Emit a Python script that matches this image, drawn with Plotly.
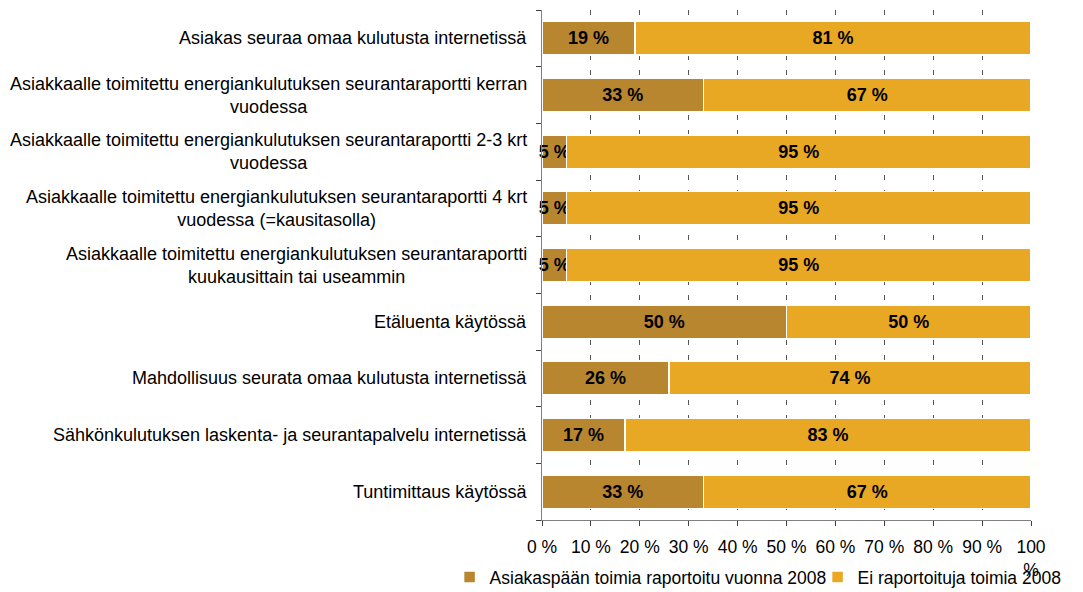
import plotly.graph_objects as go

# Survey items, top to bottom
categories = [
    "Asiakas seuraa omaa kulutusta internetissä",
    "Asiakkaalle toimitettu energiankulutuksen seurantaraportti kerran<br>vuodessa",
    "Asiakkaalle toimitettu energiankulutuksen seurantaraportti 2-3 krt<br>vuodessa",
    "Asiakkaalle toimitettu energiankulutuksen seurantaraportti 4 krt<br>vuodessa (=kausitasolla)",
    "Asiakkaalle toimitettu energiankulutuksen seurantaraportti<br>kuukausittain tai useammin",
    "Etäluenta käytössä",
    "Mahdollisuus seurata omaa kulutusta internetissä",
    "Sähkönkulutuksen laskenta- ja seurantapalvelu internetissä",
    "Tuntimittaus käytössä",
]
reported = [19, 33, 5, 5, 5, 50, 26, 17, 33]
not_reported = [81, 67, 95, 95, 95, 50, 74, 83, 67]

series_names = ["Asiakaspään toimia raportoitu vuonna 2008", "Ei raportoituja toimia 2008"]
x_tick_vals = [0, 10, 20, 30, 40, 50, 60, 70, 80, 90, 100]
x_tick_text = ["0 %", "10 %", "20 %", "30 %", "40 %", "50 %", "60 %", "70 %", "80 %", "90 %", "100<br>%"]

DARK = "#B8862F"
LIGHT = "#E8A823"
FONT = "Liberation Sans, Arial, sans-serif"

ykeys = list(range(len(categories)))

fig = go.Figure()
for name, vals, col in [(series_names[0], reported, DARK), (series_names[1], not_reported, LIGHT)]:
    fig.add_trace(go.Bar(
        y=ykeys, x=vals, name=name, orientation="h",
        marker=dict(color=col, line=dict(color="white", width=1.5)),
        text=[f"{v} %" for v in vals],
        textposition="inside", insidetextanchor="middle",
        textangle=0, constraintext="none",
        textfont=dict(family=FONT, size=18, color="black", weight="bold"),
        cliponaxis=False,
    ))

# Category labels: right-aligned block, lines centred within it
for i, c in enumerate(categories):
    fig.add_annotation(
        x=0, xref="paper", xshift=-13, y=i, yref="y",
        text=c, showarrow=False, xanchor="right", yanchor="middle",
        align="center", font=dict(family=FONT, size=18, color="black"),
    )

fig.update_layout(
    barmode="stack", bargap=0.41,
    width=1083, height=592,
    margin=dict(l=542, r=52, t=10, b=72, autoexpand=False),
    paper_bgcolor="white", plot_bgcolor="white",
    font=dict(family=FONT, size=18, color="black"),
    showlegend=True,
    legend=dict(orientation="h", x=-0.189, xanchor="left", y=-0.0765, yanchor="top",
                font=dict(family=FONT, size=17.5, color="black"),
                traceorder="normal", bgcolor="rgba(0,0,0,0)",
                itemwidth=30, entrywidth=323, entrywidthmode="pixels"),
)
fig.update_xaxes(
    range=[0, 100], tickvals=x_tick_vals, ticktext=x_tick_text,
    showgrid=True, gridcolor="#555555", gridwidth=1, griddash="5px,10px",
    showline=True, linecolor="#808080", linewidth=1,
    ticks="outside", ticklen=5, tickcolor="#404040",
    tickfont=dict(family=FONT, size=17.5, color="black"),
    ticklabelstandoff=6,
    zeroline=False, fixedrange=True,
)
fig.update_yaxes(
    type="category", autorange="reversed",
    tickvals=ykeys, ticktext=[""] * len(ykeys), tickson="boundaries",
    showline=True, linecolor="#808080", linewidth=1,
    ticks="outside", ticklen=5, tickcolor="#404040",
    showgrid=False, zeroline=False, fixedrange=True,
)

fig.write_html("out.html")
